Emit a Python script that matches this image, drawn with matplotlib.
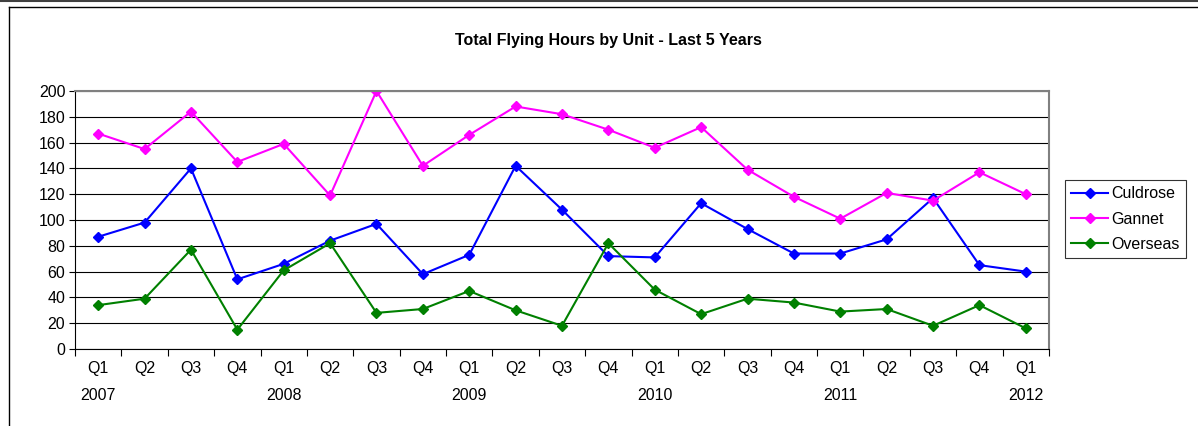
import matplotlib.pyplot as plt
from matplotlib.lines import Line2D

plt.rcParams["font.family"] = ["Liberation Sans", "DejaVu Sans"]

quarters = ["Q1", "Q2", "Q3", "Q4", "Q1", "Q2", "Q3", "Q4", "Q1", "Q2", "Q3",
            "Q4", "Q1", "Q2", "Q3", "Q4", "Q1", "Q2", "Q3", "Q4", "Q1"]
years = ["2007", "", "", "", "2008", "", "", "", "2009", "", "", "",
         "2010", "", "", "", "2011", "", "", "", "2012"]

culdrose = [87, 98, 140, 54, 66, 84, 97, 58, 73, 142, 108, 72, 71, 113, 93,
            74, 74, 85, 117, 65, 60]
gannet = [167, 155, 184, 145, 159, 119, 200, 142, 166, 188, 182, 170, 156,
          172, 139, 118, 101, 121, 115, 137, 120]
overseas = [34, 39, 77, 15, 61, 82, 28, 31, 45, 30, 18, 82, 46, 27, 39, 36,
            29, 31, 18, 34, 16]

fs = 11.5

fig = plt.figure(figsize=(11.98, 4.26), dpi=100)
ax = fig.add_axes([75 / 1198, 1 - 349 / 426, (1049 - 75) / 1198, (349 - 91) / 426])

x = list(range(len(quarters)))
ax.plot(x, culdrose, color="#0000FF", marker="D", markersize=5, lw=1.5, label="Culdrose")
ax.plot(x, gannet, color="#FF00FF", marker="D", markersize=5, lw=1.5, label="Gannet")
ax.plot(x, overseas, color="#008000", marker="D", markersize=5, lw=1.5, label="Overseas")

ax.set_ylim(0, 200)
ax.set_yticks(range(0, 201, 20))
ax.yaxis.grid(True, color="black", lw=0.8)
ax.set_axisbelow(True)
ax.set_xlim(-0.5, len(quarters) - 0.5)

# ticks between categories, labels centred on them
ax.set_xticks([i - 0.5 for i in range(len(quarters) + 1)])
ax.set_xticklabels([])
ax.set_xticks(x, minor=True)
ax.set_xticklabels([q + "\n" + y for q, y in zip(quarters, years)], minor=True,
                   fontsize=fs, linespacing=1.95, va="top")
ax.tick_params(axis="x", which="minor", length=0, pad=9)
ax.tick_params(axis="x", which="major", length=5, direction="out", width=0.8)
ax.tick_params(axis="y", length=4, width=0.8, labelsize=fs, pad=3)

ax.spines["top"].set_color("#808080")
ax.spines["right"].set_color("#808080")
ax.spines["top"].set_linewidth(1.5)
ax.spines["right"].set_linewidth(1.5)

fig.text(608 / 1198, 1 - 40 / 426, "Total Flying Hours by Unit - Last 5 Years",
         ha="center", va="center", fontsize=fs, fontweight="bold")

leg = ax.legend(loc="center left", bbox_to_anchor=(1065 / 1198, 1 - 219 / 426),
                bbox_transform=fig.transFigure, fontsize=fs, frameon=True,
                fancybox=False, edgecolor="black", borderpad=0.4,
                handlelength=2.3, labelspacing=0.65, handletextpad=0.2,
                borderaxespad=0)
leg.get_frame().set_linewidth(0.8)

# chart area border
fig.add_artist(Line2D([0, 1], [1 - 0.5 / 426] * 2, color="#404040", lw=1.5))
fig.add_artist(Line2D([9 / 1198, 1], [1 - 7 / 426] * 2, color="black", lw=1))
fig.add_artist(Line2D([9 / 1198] * 2, [0, 1 - 7 / 426], color="black", lw=1))

fig.savefig("out.png", dpi=100)
